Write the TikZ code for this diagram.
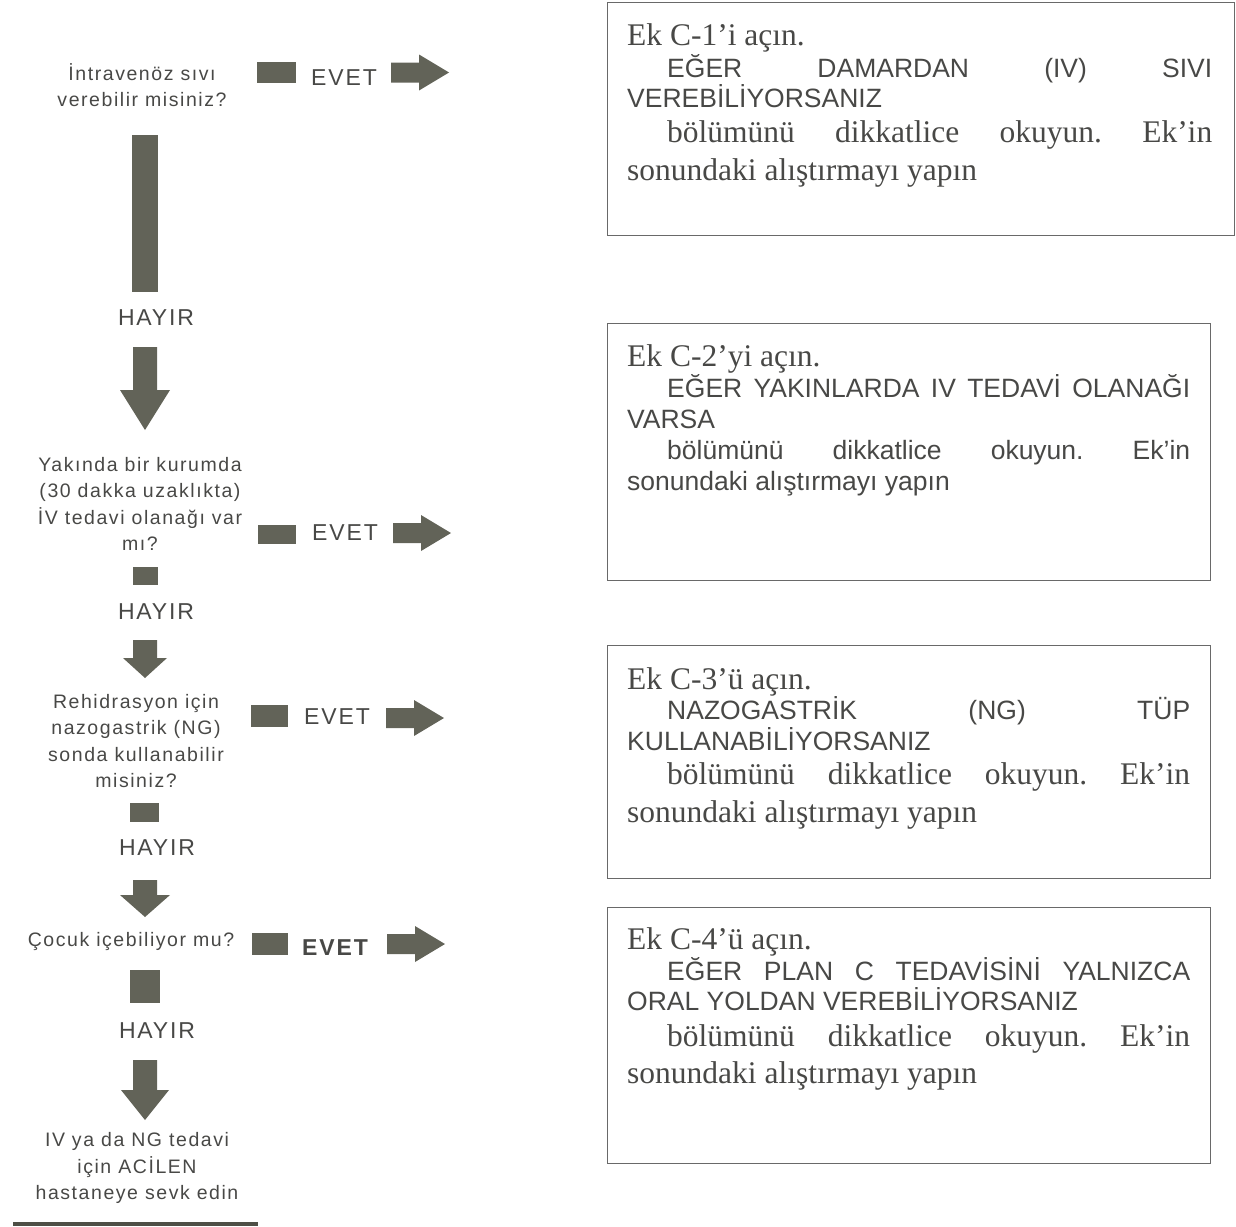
\documentclass[tikz,border=0pt]{standalone}
\usepackage{fontspec}
\setmainfont{Liberation Serif}
\setsansfont{Liberation Sans}
\newfontfamily\aralikli[LetterSpace=8]{Liberation Sans}
\definecolor{blok}{RGB}{98,99,88}
\definecolor{yazi}{RGB}{72,72,70}
\definecolor{cerceve}{RGB}{105,105,105}
\tikzset{
    soru/.style={font=\aralikli\fontsize{19.5}{26.5}\selectfont, text=yazi,
    	align=center, inner sep=0},
    etiket/.style={font=\aralikli\fontsize{23}{23}\selectfont, text=yazi, inner sep=0},
    kare/.style={rectangle, fill=blok, inner sep=0}
}
\tikzset{
    kutu/.style={draw=cerceve, line width=1.1pt, inner sep=0, anchor=north west},
    serif/.style={font=\frenchspacing\rmfamily\fontsize{31.5}{31.5}\selectfont, text=yazi,
    	anchor=base west, inner sep=0},
    buyuk/.style={font=\frenchspacing\sffamily\fontsize{26.5}{26.5}\selectfont, text=yazi,
    	anchor=base west, inner sep=0}
}
\tikzset{
    pics/sagok/.style={code={\fill[blok] (0,-10) -- (28,-10) -- (28,-18) -- (58,0)
    	-- (28,18) -- (28,10) -- (0,10) -- cycle;}},
    pics/asagiok/.style n args={3}{code={\fill[blok] (-12,0) -- (-12,#1) -- (-#2,#1)
    	-- (0,#3) -- (#2,#1) -- (12,#1) -- (12,0) -- cycle;}}
}

\begin{document}
\begin{tikzpicture}[x=1pt, y=-1pt]
	\useasboundingbox (0,0) rectangle (1236,1226);

	% sol sutun
	\node[soru] (s1) at (142,85) {İntravenöz sıvı\\verebilir misiniz?};
	\node[kare, minimum width=26pt, minimum height=157pt] (d1) at (145,213.5) {};
	\node[etiket] (h1) at (156,318) {HAYIR};
	\pic (a1) at (145,347) {asagiok={43}{25}{83}};
	\node[soru] (s2) at (140,504) {Yakında bir kurumda\\(30 dakka uzaklıkta)\\İV tedavi olanağı var\\mı?};
	\node[kare, minimum width=25pt, minimum height=18pt] (d2) at (145.5,576) {};
	\node[etiket] (h2) at (156,612) {HAYIR};
	\pic (a2) at (145,640) {asagiok={18}{22}{38}};
	\node[soru] (s3) at (136,741) {Rehidrasyon için\\nazogastrik (NG)\\sonda kullanabilir\\misiniz?};
	\node[kare, minimum width=29pt, minimum height=19pt] (d3) at (144.5,812.5) {};
	\node[etiket] (h3) at (157,848) {HAYIR};
	\pic (a3) at (145,880) {asagiok={15}{25}{37}};
	\node[soru] (s4) at (131,941) {Çocuk içebiliyor mu?};
	\node[kare, minimum width=30pt, minimum height=33pt] (d4) at (145,986.5) {};
	\node[etiket] (h4) at (157,1031) {HAYIR};
	\pic (a4) at (145,1060) {asagiok={30}{24}{60}};
	\node[soru] (s5) at (137,1168) {IV ya da NG tedavi\\için ACİLEN\\hastaneye sevk edin};
	\node[fill=blok!80!black, inner sep=0, minimum width=245pt, minimum height=4pt] (alt) at (135.5,1224) {};

	% evet oklari
	\node[kare, minimum width=39pt, minimum height=21pt] (e1) at (276.5,72.5) {};
	\node[etiket] (v1) at (344,78) {EVET};
	\pic (o1) at (391,72.5) {sagok};
	\node[kare, minimum width=38pt, minimum height=19pt] (e2) at (277,534.5) {};
	\node[etiket] (v2) at (345,533) {EVET};
	\pic (o2) at (393,533) {sagok};
	\node[kare, minimum width=37pt, minimum height=22pt] (e3) at (269.5,716) {};
	\node[etiket] (v3) at (337,717) {EVET};
	\pic (o3) at (386,718) {sagok};
	\node[kare, minimum width=36pt, minimum height=22pt] (e4) at (270,944) {};
	\node[etiket, font=\aralikli\bfseries\fontsize{23}{23}\selectfont] (v4) at (335,948) {EVET};
	\pic (o4) at (387,944) {sagok};

	% kutular
	\node[kutu, minimum width=627pt, minimum height=233pt] (k1) at (607,2) {};
	\node[serif] (k1a) at (627,45) {Ek C-1’i açın.};
	\node[buyuk] (k1b) at (667,77) {\makebox[545pt][s]{EĞER DAMARDAN (IV) SIVI}};
	\node[buyuk] (k1c) at (627,107) {VEREBİLİYORSANIZ};
	\node[serif] (k1d) at (667,142) {\makebox[545pt][s]{bölümünü dikkatlice okuyun. Ek’in}};
	\node[serif] (k1e) at (627,180) {sonundaki alıştırmayı yapın};

	\node[kutu, minimum width=603pt, minimum height=257pt] (k2) at (607,323) {};
	\node[serif] (k2a) at (627,366) {Ek C-2’yi açın.};
	\node[buyuk] (k2b) at (667,397) {\makebox[523pt][s]{EĞER YAKINLARDA IV TEDAVİ OLANAĞI}};
	\node[buyuk] (k2c) at (627,428) {VARSA};
	\node[buyuk] (k2d) at (667,459) {\makebox[523pt][s]{bölümünü dikkatlice okuyun. Ek’in}};
	\node[buyuk] (k2e) at (627,490) {sonundaki alıştırmayı yapın};

	\node[kutu, minimum width=603pt, minimum height=233pt] (k3) at (607,645) {};
	\node[serif] (k3a) at (627,689) {Ek C-3’ü açın.};
	\node[buyuk] (k3b) at (667,719) {\makebox[523pt][s]{NAZOGASTRİK (NG) TÜP}};
	\node[buyuk] (k3c) at (627,750) {KULLANABİLİYORSANIZ};
	\node[serif] (k3d) at (667,784) {\makebox[523pt][s]{bölümünü dikkatlice okuyun. Ek’in}};
	\node[serif] (k3e) at (627,822) {sonundaki alıştırmayı yapın};

	\node[kutu, minimum width=603pt, minimum height=256pt] (k4) at (607,907) {};
	\node[serif] (k4a) at (627,949) {Ek C-4’ü açın.};
	\node[buyuk] (k4b) at (667,980) {\makebox[523pt][s]{EĞER PLAN C TEDAVİSİNİ YALNIZCA}};
	\node[buyuk] (k4c) at (627,1010) {ORAL YOLDAN VEREBİLİYORSANIZ};
	\node[serif] (k4d) at (667,1046) {\makebox[523pt][s]{bölümünü dikkatlice okuyun. Ek’in}};
	\node[serif] (k4e) at (627,1083) {sonundaki alıştırmayı yapın};
\end{tikzpicture}
\end{document}
